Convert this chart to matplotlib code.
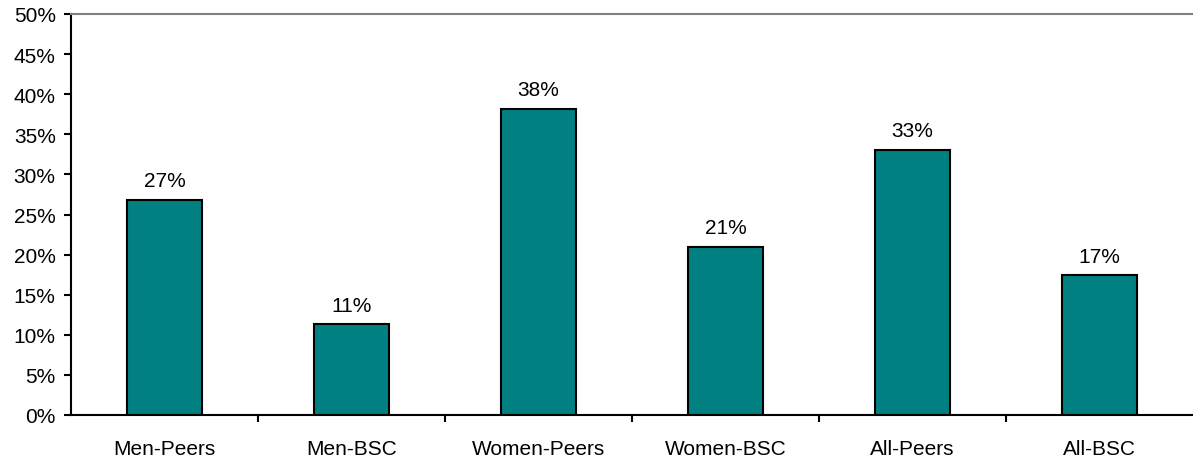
import matplotlib
matplotlib.use('Agg')
import matplotlib.pyplot as plt
import numpy as np

categories = ['Men-Peers', 'Men-BSC', 'Women-Peers', 'Women-BSC', 'All-Peers', 'All-BSC']
values = [26.8, 11.3, 38.2, 21.0, 33.1, 17.4]
labels = ['27%', '11%', '38%', '21%', '33%', '17%']

plt.rcParams['font.family'] = ['Liberation Sans', 'DejaVu Sans']
fs = 15

fig = plt.figure(figsize=(11.93, 4.64), dpi=100)
ax = fig.add_axes([71 / 1193, 48 / 464, 1 - 71 / 1193, (416 - 15) / 464])

x = np.arange(len(categories))
bars = ax.bar(x, values, width=0.4, color='#008080', edgecolor='black', linewidth=1.5)
for b, lab in zip(bars, labels):
    ax.annotate(lab, (b.get_x() + b.get_width() / 2, b.get_height()),
                xytext=(0, 7), textcoords='offset points', ha='center', va='bottom', fontsize=fs)

ax.set_xlim(-0.5, len(categories) - 0.5)
ax.set_ylim(0, 50)
ax.set_yticks(np.arange(0, 51, 5))
ax.set_yticklabels([f'{v}%' for v in range(0, 51, 5)], fontsize=fs)
ax.set_xticks(x)
ax.set_xticklabels(categories, fontsize=fs)
ax.tick_params(axis='x', length=0, pad=17)
ax.set_xticks(np.arange(0.5, len(categories) - 0.5, 1), minor=True)
ax.tick_params(axis='x', which='minor', length=5, width=1.5, direction='out')
ax.tick_params(axis='y', length=5, width=1.5, direction='out', pad=6)

ax.spines['right'].set_visible(False)
ax.spines['top'].set_color('#808080')
ax.spines['top'].set_linewidth(1.5)
ax.spines['left'].set_linewidth(1.5)
ax.spines['bottom'].set_linewidth(1.5)

plt.savefig('out.png', dpi=100)
